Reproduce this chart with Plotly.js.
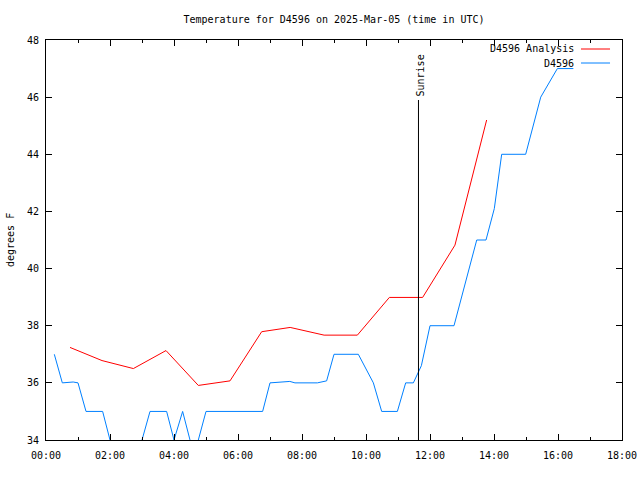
<!DOCTYPE html>
<html>
<head>
<meta charset="utf-8">
<script src="https://cdn.plot.ly/plotly-3.0.1.min.js"></script>
<style>html,body{margin:0;padding:0;background:#fff;}#chart{width:640px;height:480px;}</style>
</head>
<body>
<div id="chart"></div>
<script>
// Hours since 00:00 UTC
const obsHours = [0.26, 0.51, 0.85, 1.0, 1.25, 1.77, 2.0, 2.5, 3.0, 3.25, 3.77, 4.0, 4.27, 4.5, 4.63, 4.76, 5.0, 6.77, 7.0, 7.62, 7.78, 8.48, 8.77, 9.0, 9.76, 10.23, 10.49, 10.98, 11.24, 11.48, 11.73, 12.0, 12.75, 13.46, 13.75, 14.01, 14.24, 14.99, 15.46, 15.98, 16.48];
const obsTemps = [37, 36, 36.03, 36, 35, 35, 34, 33, 34, 35, 35, 34, 35, 34, 33, 34, 35, 35, 36, 36.05, 36, 36, 36.07, 37, 37, 36, 35, 35, 36, 36, 36.6, 38, 38, 41, 41, 42.1, 44, 44, 46, 47, 47];
const anaHours = [0.75, 1.75, 2.73, 3.75, 4.76, 5.75, 6.74, 7.63, 8.69, 9.73, 10.73, 11.77, 12.78, 13.77];
const anaTemps = [37.24, 36.78, 36.5, 37.13, 35.91, 36.07, 37.79, 37.94, 37.67, 37.67, 38.99, 38.99, 40.82, 45.2];
const sunriseHour = 11.64;
const sunriseTop = 45.9;
const tickHours = [0, 2, 4, 6, 8, 10, 12, 14, 16, 18];
const tickLabels = ["00:00", "02:00", "04:00", "06:00", "08:00", "10:00", "12:00", "14:00", "16:00", "18:00"];
const yTicks = [34, 36, 38, 40, 42, 44, 46, 48];
const seriesNames = ["D4596 Analysis", "D4596"];
const seriesColors = ["#ff0000", "#0080ff"];

const FONT = "DejaVu Sans Mono, monospace";

const traces = [
  {x: anaHours, y: anaTemps, name: seriesNames[0], mode: "lines", line: {color: seriesColors[0], width: 1}},
  {x: obsHours, y: obsTemps, name: seriesNames[1], mode: "lines", line: {color: seriesColors[1], width: 1}}
];

// legend drawn gnuplot-style (text left, sample right)
const legendRowsY = [0.9775, 0.9425];
const annotations = [
  {xref: "x", yref: "y", x: sunriseHour, y: sunriseTop, text: "Sunrise", textangle: -90, showarrow: false,
   xanchor: "center", yanchor: "bottom", xshift: 2, yshift: 2, font: {family: FONT, size: 10, color: "#000"}},
  {xref: "paper", yref: "paper", x: 0, y: 0.5, xshift: -36, text: "degrees F", textangle: -90, showarrow: false,
   xanchor: "center", yanchor: "middle", font: {family: FONT, size: 10, color: "#000"}}
];
const shapes = [
  {type: "line", xref: "x", yref: "y", x0: sunriseHour, x1: sunriseHour, y0: 34, y1: sunriseTop, line: {color: "#000", width: 1}}
];
seriesNames.forEach((n, i) => {
  annotations.push({xref: "paper", yref: "paper", x: 0.9195, y: legendRowsY[i], text: n, showarrow: false,
    xanchor: "right", yanchor: "middle", font: {family: FONT, size: 10, color: "#000"}});
  shapes.push({type: "line", xref: "paper", yref: "paper", x0: 0.9288, x1: 0.9792, y0: legendRowsY[i], y1: legendRowsY[i],
    line: {color: seriesColors[i], width: 1}});
});

const layout = {
  width: 640, height: 480,
  margin: {l: 46, r: 18, t: 40, b: 40, pad: 0},
  paper_bgcolor: "#fff", plot_bgcolor: "#fff",
  showlegend: false,
  title: {text: "Temperature for D4596 on 2025-Mar-05 (time in UTC)", font: {family: FONT, size: 10, color: "#000"},
          x: 0.5, xref: "paper", y: 1 - 19/480, yanchor: "middle"},
  font: {family: FONT, size: 10, color: "#000"},
  xaxis: {range: [0, 18], tickvals: tickHours, ticktext: tickLabels, showgrid: false, zeroline: false,
          showline: true, linecolor: "#000", linewidth: 1, mirror: "ticks", ticks: "inside", ticklen: 6, tickcolor: "#000",
          minor: {dtick: 1, tick0: 0, ticks: "inside", ticklen: 3, tickcolor: "#000"},
          tickfont: {family: FONT, size: 10, color: "#000"}, ticklabelstandoff: 6},
  yaxis: {range: [34, 48], tickvals: yTicks, showgrid: false, zeroline: false,
          showline: true, linecolor: "#000", linewidth: 1, mirror: "ticks", ticks: "inside", ticklen: 6, tickcolor: "#000",
          tickfont: {family: FONT, size: 10, color: "#000"}, ticklabelstandoff: 4},
  annotations: annotations,
  shapes: shapes
};

Plotly.newPlot("chart", traces, layout, {displayModeBar: false, staticPlot: true});
</script>
</body>
</html>
